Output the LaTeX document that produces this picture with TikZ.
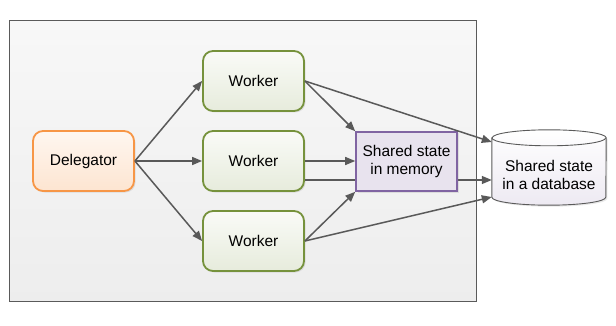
\documentclass[tikz,border=0pt]{standalone}
\usepackage{fontspec}
\setmainfont{Liberation Sans}
\usetikzlibrary{arrows.meta,calc,shadows}
\definecolor{arrowc}{HTML}{595959}
\definecolor{orangeb}{HTML}{F79646}
\definecolor{greenb}{HTML}{76923C}
\definecolor{purpleb}{HTML}{8064A2}
\definecolor{frameb}{HTML}{5A5A5A}
\tikzset{
  every node/.style={font=\fontsize{15.5}{18}\selectfont, text=black},
  boxshadow/.style={drop shadow={opacity=0.18, shadow xshift=1.5pt, shadow yshift=-1.5pt}},
  delegbox/.style={draw=orangeb, line width=1.8pt, rounded corners=10pt, minimum width=101pt, minimum height=60pt, top color=orangeb!8, bottom color=orangeb!25, boxshadow},
  workerbox/.style={draw=greenb, line width=1.8pt, rounded corners=10pt, minimum width=101pt, minimum height=60pt, top color=greenb!4, bottom color=greenb!18, boxshadow},
  membox/.style={draw=purpleb, line width=1.6pt, minimum width=101pt, minimum height=59pt, fill=purpleb!18, align=center, boxshadow},
  conn/.style={draw=arrowc, line width=1.5pt, -{Triangle[length=10pt,width=8pt]}},
}
\begin{document}
\begin{tikzpicture}[x=1pt,y=-1pt]
\useasboundingbox (0,0) rectangle (616,326);
% frame
\draw[frameb, line width=1pt, top color=white!97!black, bottom color=white!93!black] (9,21) rectangle (476,301);
% nodes
\node[delegbox] (deleg) at (83.5,161) {Delegator};
\node[workerbox] (w1) at (253.5,81) {Worker};
\node[workerbox] (w2) at (253.5,161) {Worker};
\node[workerbox] (w3) at (253.5,241) {Worker};
% database cylinder
\node[minimum width=114pt, minimum height=75pt, inner sep=0pt] (db) at (549,167.5) {};
\path[draw=frameb, line width=0.9pt, top color=white, bottom color=purpleb!14, boxshadow]
  ($(db.north west)+(0,8)$) -- ($(db.south west)+(0,-8)$)
  arc[start angle=180, end angle=360, x radius=57pt, y radius=8pt]
  -- ($(db.north east)+(0,8)$)
  arc[start angle=0, end angle=180, x radius=57pt, y radius=8pt] -- cycle;
\draw[frameb, line width=0.9pt] ($(db.north west)+(0,8)$)
  arc[start angle=180, end angle=360, x radius=57pt, y radius=8pt];
\node[align=center, inner sep=0pt] (dbtext) at (549,175) {Shared state\\in a database};
% line behind memory box
\draw[conn] (w2.east|-0,180) -- (db.west|-0,180);
% memory box
\node[membox] (mem) at (406.5,161.5) {Shared state\\in memory};
% connectors
\draw[conn] (deleg.east) -- (w1.west);
\draw[conn] (deleg.east) -- (w2.west);
\draw[conn] (deleg.east) -- (w3.west);
\draw[conn] (w1.east) -- (mem.north west);
\draw[conn] (w1.east) -- (db.west|-0,142);
\draw[conn] (w2.east) -- (mem.west|-w2.east);
\draw[conn] (w3.east) -- (mem.south west);
\draw[conn] (w3.east) -- (db.west|-0,197);
\end{tikzpicture}
\end{document}
